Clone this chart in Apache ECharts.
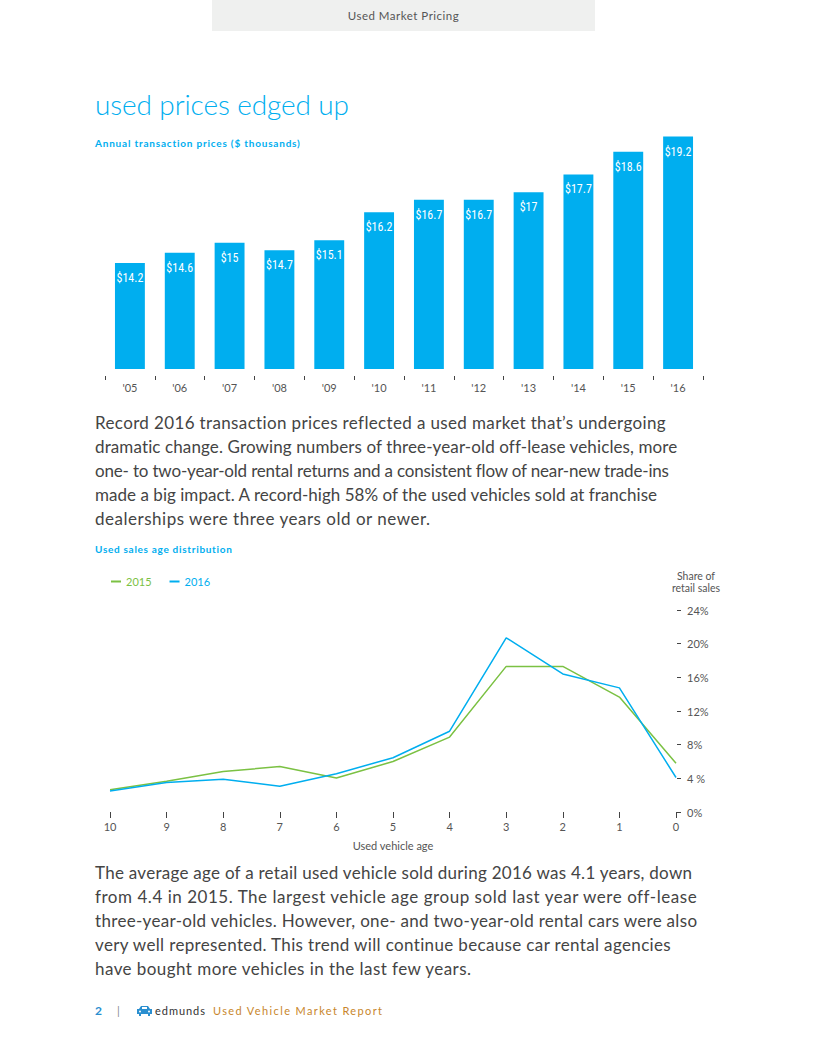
<!DOCTYPE html>
<html>
<head>
<meta charset="utf-8">
<script src="https://cdn.jsdelivr.net/npm/echarts@6/dist/echarts.min.js"></script>
<style>
  html, body { margin: 0; padding: 0; background: #fff; }
  body { width: 815px; height: 1055px; position: relative; overflow: hidden; font-family: Lato, "Open Sans", sans-serif; }
  #chart { position: absolute; left: 0; top: 0; width: 815px; height: 1055px; }
  .t { position: absolute; white-space: nowrap; }
  .fit { display: inline-block; }
  #header { position: absolute; left: 212px; top: 0; width: 383px; height: 31px; background: #eff0ef; }
  .para { position: absolute; left: 95px; font-size: 17px; line-height: 24px; color: #444; }
  .para div { height: 24px; white-space: nowrap; }
</style>
</head>
<body>
<div id="header"></div>
<div id="chart"></div>

<div class="t" style="left:212px;top:9px;width:383px;text-align:center;font-size:11.5px;color:#555;">
  <span class="fit" data-w="111">Used Market Pricing</span></div>

<div class="t" style="left:95px;top:87px;font-size:28px;font-weight:300;color:#00aeef;line-height:34px;">
  <span class="fit" data-w="254">used prices edged up</span></div>

<div class="t" style="left:95px;top:137px;font-size:10px;font-weight:700;color:#00aeef;line-height:12px;">
  <span class="fit" data-w="205">Annual transaction prices ($ thousands)</span></div>

<div class="para" style="top:411px;">
  <div><span class="fit" data-w="571">Record 2016 transaction prices reflected a used market that’s undergoing</span></div>
  <div><span class="fit" data-w="582">dramatic change. Growing numbers of three-year-old off-lease vehicles, more</span></div>
  <div><span class="fit" data-w="574">one- to two-year-old rental returns and a consistent flow of near-new trade-ins</span></div>
  <div><span class="fit" data-w="562">made a big impact. A record-high 58% of the used vehicles sold at franchise</span></div>
  <div><span class="fit" data-w="335">dealerships were three years old or newer.</span></div>
</div>

<div class="t" style="left:95px;top:543px;font-size:10px;font-weight:700;color:#00aeef;line-height:12px;">
  <span class="fit" data-w="137">Used sales age distribution</span></div>

<div class="t" style="left:660px;top:570px;width:72px;text-align:center;font-size:10.5px;line-height:12px;color:#555;">
  Share of<br>retail sales</div>

<div class="para" style="top:861px;">
  <div><span class="fit" data-w="597">The average age of a retail used vehicle sold during 2016 was 4.1 years, down</span></div>
  <div><span class="fit" data-w="601">from 4.4 in 2015. The largest vehicle age group sold last year were off-lease</span></div>
  <div><span class="fit" data-w="602">three-year-old vehicles. However, one- and two-year-old rental cars were also</span></div>
  <div><span class="fit" data-w="576">very well represented. This trend will continue because car rental agencies</span></div>
  <div><span class="fit" data-w="376">have bought more vehicles in the last few years.</span></div>
</div>

<div class="t" style="left:95px;top:1004px;font-size:12px;font-weight:700;color:#2a8fd0;line-height:14px;">2</div>
<div class="t" style="left:117px;top:1004px;font-size:11px;color:#888;line-height:14px;">|</div>
<svg style="position:absolute;left:136px;top:1005px;" width="17" height="12" viewBox="0 0 17 12">
  <path d="M3 4 L5 1 H12 L14 4 H16 V9 H14 V11 H12 V9 H5 V11 H3 V9 H1 V4 Z" fill="#2a8fd0"/>
  <rect x="6" y="2" width="5" height="2" fill="#fff"/>
  <circle cx="4" cy="6.5" r="1" fill="#fff"/><circle cx="13" cy="6.5" r="1" fill="#fff"/>
</svg>
<div class="t" style="left:155px;top:1004px;font-size:11px;color:#333;line-height:14px;">
  <span class="fit" data-w="50">edmunds</span></div>
<div class="t" style="left:213px;top:1004px;font-size:11px;color:#c8862b;line-height:14px;">
  <span class="fit" data-w="169">Used Vehicle Market Report</span></div>

<script>
// ---- data ----
const years = ["'05", "'06", "'07", "'08", "'09", "'10", "'11", "'12", "'13", "'14", "'15", "'16"];
const prices = [14.2, 14.6, 15, 14.7, 15.1, 16.2, 16.7, 16.7, 17, 17.7, 18.6, 19.2];

const ages = ['10', '9', '8', '7', '6', '5', '4', '3', '2', '1', '0'];
const share2015 = [2.65, 3.65, 4.8, 5.4, 4.05, 6.0, 8.9, 17.3, 17.3, 13.65, 5.8];
const share2016 = [2.5, 3.5, 3.9, 3.05, 4.55, 6.45, 9.6, 20.7, 16.4, 14.75, 4.1];
const shareTicks = [0, 4, 8, 12, 16, 20, 24];

const BLUE = '#00aeef';
const GREEN = '#7bc143';
const GRAY = '#555';

// fit text widths
document.querySelectorAll('.fit').forEach(el => {
  const target = parseFloat(el.dataset.w);
  const n = el.textContent.length;
  const w = el.getBoundingClientRect().width;
  if (n > 1) el.style.letterSpacing = ((target - w) / (n - 1)).toFixed(3) + 'px';
});

const chart = echarts.init(document.getElementById('chart'), null, { renderer: 'svg' });
chart.setOption({
  animation: false,
  textStyle: { fontFamily: 'Lato, "Open Sans", sans-serif' },
  legend: {
    left: 106, top: 571,
    itemWidth: 10, itemHeight: 2, itemGap: 18,
    icon: 'rect',
    textStyle: { fontSize: 11 },
    data: [
      { name: '2015', textStyle: { color: GREEN } },
      { name: '2016', textStyle: { color: BLUE } }
    ]
  },
  grid: [
    { left: 105, right: 112, top: 129, bottom: 686 },
    { left: 110, right: 139, top: 610, bottom: 243 }
  ],
  xAxis: [
    {
      gridIndex: 0, type: 'category', data: years,
      offset: 7,
      axisLine: { show: false },
      axisTick: { show: true, length: 4, lineStyle: { color: '#444' } },
      axisLabel: { color: GRAY, fontSize: 11, margin: 6 }
    },
    {
      gridIndex: 1, type: 'category', data: ages, boundaryGap: false,
      offset: 1,
      axisLine: { show: false },
      axisTick: { show: true, length: 6, lineStyle: { color: '#444' } },
      axisLabel: { color: GRAY, fontSize: 11, margin: 8 },
      name: 'Used vehicle age', nameLocation: 'middle', nameGap: 27,
      nameTextStyle: { color: GRAY, fontSize: 11 }
    }
  ],
  yAxis: [
    { gridIndex: 0, type: 'value', min: 10, max: 19.5, show: false },
    {
      gridIndex: 1, type: 'value', position: 'right', min: 0, max: 24, interval: 4,
      offset: 1,
      splitLine: { show: false },
      axisLine: { show: false },
      axisTick: { show: true, length: 4, lineStyle: { color: '#444' } },
      axisLabel: {
        color: GRAY, fontSize: 11, margin: 10,
        formatter: v => (v === 4 ? '4 %' : v + '%')
      }
    }
  ],
  series: [
    {
      type: 'bar', xAxisIndex: 0, yAxisIndex: 0, data: prices,
      barWidth: '60%',
      itemStyle: { color: BLUE },
      label: {
        show: true, position: 'insideTop', distance: 9,
        color: '#fff', fontSize: 12,
        fontFamily: '"Liberation Sans Narrow", "Roboto Condensed", Lato, sans-serif',
        formatter: p => '$' + p.value
      }
    },
    {
      name: '2015', type: 'line', xAxisIndex: 1, yAxisIndex: 1, data: share2015,
      showSymbol: false, symbol: 'none',
      lineStyle: { color: GREEN, width: 1.5 }, itemStyle: { color: GREEN }
    },
    {
      name: '2016', type: 'line', xAxisIndex: 1, yAxisIndex: 1, data: share2016,
      showSymbol: false, symbol: 'none',
      lineStyle: { color: BLUE, width: 1.5 }, itemStyle: { color: BLUE }
    }
  ]
});
</script>
</body>
</html>
